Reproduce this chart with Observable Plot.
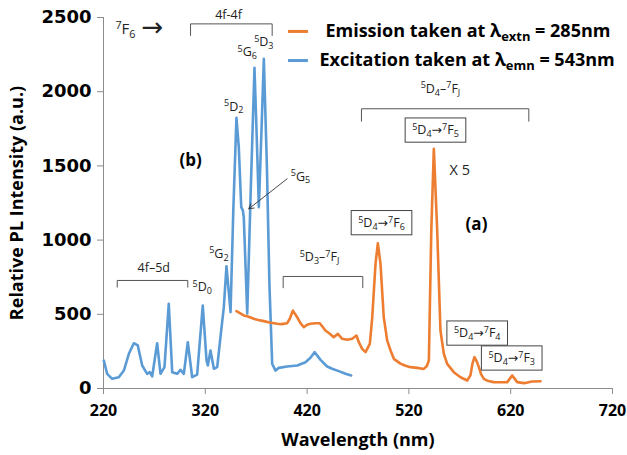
<!DOCTYPE html>
<html><head><meta charset="utf-8">
<script src="https://cdn.jsdelivr.net/npm/d3@7"></script>
<script src="https://cdn.jsdelivr.net/npm/@observablehq/plot@0.6"></script>
<style>body{margin:0;background:#fff} svg text{white-space:pre}</style>
</head><body><div id="chart"></div>
<script>
// Excitation spectrum (blue), monitored at 543 nm
const excWl  = [220.3,223.6,228.5,235,240,244.9,249.8,253.7,258,262.9,265.5,267.8,272.7,276,279.9,284.1,287.5,292.4,295.6,298.9,302.8,307.1,312,317.5,321.2,322.5,325.1,328.4,331.7,334.9,338.2,340.8,344.8,347.5,350.6,352.9,355.3,356.9,357.8,361.2,364.5,368.3,370.5,372.6,375,377.5,380.5,383,385.7,389,392.2,400.4,410.3,418.4,423.3,427.3,433.2,439.7,444.6,451.1,457.7,463.3];
const excVal = [189,99,65,76,121,234,305,290,155,99,110,81,305,99,144,571,110,99,126,99,312,76,94,559,189,155,256,133,144,346,548,824,515,1200,1824,1626,1222,1200,1154,505,1300,2161,1700,1222,1700,2222,1500,700,166,121,139,148,155,177,207,245,193,148,133,117,99,88];
// Emission spectrum (orange), excited at 285 nm
const emWl  = [350.6,357.8,362,367.6,372,377.5,383,390.6,395,400.4,403,406,410.3,413.5,416.8,420,423.3,428.3,432.5,438,442,446.2,450.2,454.5,459.4,464.3,468.5,470.8,474.1,477.4,481.6,484,487.2,489.5,492.1,495.3,498.7,502,505.2,511.7,516,521.6,528.2,534.6,537.5,539.6,542,544.5,547.8,551,554.3,557.6,564.1,570.7,577.3,580.5,582.5,584.4,586.5,588.7,591,593.6,598,603.4,610,616.6,619.5,621.5,624,626.4,633,641,649.3];
const emVal = [521,492,485,470,462,454,445,436,434,440,470,525,480,440,413,430,436,440,440,391,370,346,368,335,328,335,357,312,267,245,301,480,840,979,840,480,323,256,200,168,155,144,139,132,150,189,1065,1615,1065,391,234,166,110,76,54,90,170,211,185,144,95,65,50,43,42,43,70,88,65,43,36,47,49];

const xTicks = [220,320,420,520,620,720];
const yTicks = [0,500,1000,1500,2000,2500];

const seriesNames = ["Emission taken at λ_{extn} = 285nm", "Excitation taken at λ_{emn} = 543nm"];
const colors = ["#ED7D31", "#5B9BD5"];

// annotations (data coordinates)
const levelNotes = [
  {x: 377.5, y: 2334, t: "^5D_3"},
  {x: 361.2, y: 2266, t: "^5G_6"},
  {x: 348,   y: 1900, t: "^5D_2"},
  {x: 413.5, y: 1428, t: "^5G_5"},
  {x: 333.3, y: 908,  t: "^5G_2"},
  {x: 317,   y: 683,  t: "^5D_0"},
  {x: 342.8, y: 2514, t: "4f-4f"},
  {x: 269.4, y: 813,  t: "4f–5d"},
  {x: 432.2, y: 883,  t: "^5D_3–^7F_J"},
  {x: 551,   y: 2019, t: "^5D_4–^7F_J"}
];
const boxNotes = [
  {x: 546.1, y: 1739, t: "^5D_4→^7F_5"},
  {x: 493.1, y: 1115, t: "^5D_4→^7F_6"},
  {x: 587.1, y: 371,  t: "^5D_4→^7F_4"},
  {x: 621,   y: 203,  t: "^5D_4→^7F_3"}
];
const boldNotes = [
  {x: 305.5, y: 1536, t: "(b)"},
  {x: 586.4, y: 1105, t: "(a)"}
];
const brackets = [
  {x1: 305.5, x2: 385.7, y: 2457, drop: 2379},
  {x1: 233.5, x2: 302.8, y: 728,  drop: 683},
  {x1: 396.5, x2: 474.7, y: 755,  drop: 679},
  {x1: 473.4, x2: 637.8, y: 1885, drop: 1801}
];
const arrows = [{x1: 400.4, y1: 1413, x2: 362.7, y2: 1211}];

const exc = excWl.map((x, i) => ({x, y: excVal[i]}));
const em = emWl.map((x, i) => ({x, y: emVal[i]}));
const bracketPts = brackets.flatMap((b, id) => [
  {x: b.x1, y: b.drop, id}, {x: b.x1, y: b.y, id}, {x: b.x2, y: b.y, id}, {x: b.x2, y: b.drop, id}
]);

const font = "'Open Sans', 'DejaVu Sans', sans-serif";
const axisGray = "#8c8c8c";

const chart = Plot.plot({
  width: 627, height: 455,
  marginLeft: 103, marginRight: 15, marginTop: 17, marginBottom: 67,
  x: {domain: [220, 720]},
  y: {domain: [0, 2500]},
  style: {fontFamily: font, background: "#fff", color: "#000", overflow: "visible"},
  marks: [
    Plot.ruleX([220], {y1: 0, y2: 2500, stroke: axisGray}),
    Plot.ruleY([0], {x1: 220, x2: 720, stroke: axisGray}),
    Plot.axisX({ticks: xTicks, tickSize: 6, tickPadding: 10, fontSize: 16, fontWeight: "bold", stroke: axisGray, fill: "#000", label: null, tickFormat: d => String(d)}),
    Plot.axisY({ticks: yTicks, tickSize: 6, tickPadding: 6, fontSize: 18, fontWeight: "bold", fontFamily: "DejaVu Sans", stroke: axisGray, fill: "#000", label: null, tickFormat: d => String(d)}),
    Plot.text(["Wavelength (nm)"], {frameAnchor: "bottom", lineAnchor: "middle", dy: 52, fontSize: 18, fontWeight: "bold"}),
    Plot.text(["Relative PL Intensity (a.u.)"], {frameAnchor: "left", textAnchor: "middle", lineAnchor: "middle", rotate: -90, dx: -86, fontSize: 18, fontWeight: "bold"}),
    Plot.line(exc, {x: "x", y: "y", stroke: colors[1], strokeWidth: 2.6, strokeLinejoin: "round"}),
    Plot.line(em, {x: "x", y: "y", stroke: colors[0], strokeWidth: 2.6, strokeLinejoin: "round"}),
    Plot.line(bracketPts, {x: "x", y: "y", z: "id", stroke: "#555", strokeWidth: 1}),
    Plot.arrow(arrows, {x1: "x1", y1: "y1", x2: "x2", y2: "y2", stroke: "#333", strokeWidth: 0.9, headLength: 9}),
    Plot.text(levelNotes, {x: "x", y: "y", text: "t", fontSize: 12.5, fill: "#222"}),
    Plot.text(boxNotes, {x: "x", y: "y", text: "t", fontSize: 12.5, fill: "#222"}),
    Plot.text(boldNotes, {x: "x", y: "y", text: "t", fontSize: 17, fontWeight: "bold"}),
    Plot.text(["X 5"], {x: 570, y: 1469, fontSize: 14.5, fill: "#222"}),
    Plot.text(["^7F_6"], {x: 241.6, y: 2419, fontSize: 15, fill: "#222"}),
    Plot.text(["→"], {x: 268.1, y: 2430, fontSize: 26, fontFamily: "DejaVu Sans", fill: "#222"}),
    // legend
    Plot.ruleY([2406], {x1: 401.7, x2: 421.3, stroke: colors[0], strokeWidth: 3}),
    Plot.ruleY([2210], {x1: 401.7, x2: 421.3, stroke: colors[1], strokeWidth: 3}),
    Plot.text([{x: 438, y: 2406, t: seriesNames[0]}, {x: 432.2, y: 2210, t: seriesNames[1]}],
      {x: "x", y: "y", text: "t", textAnchor: "start", fontSize: 18, fontWeight: "bold"})
  ]
});
document.getElementById("chart").append(chart);

function richify(el) {
  const s = el.textContent;
  if (!/[\^_]/.test(s)) return false;
  const fs = parseFloat(getComputedStyle(el).fontSize) || 12;
  const segs = [];
  for (let i = 0; i < s.length;) {
    const c = s[i];
    if ((c === "^" || c === "_") && i + 1 < s.length) {
      i++;
      let t;
      if (s[i] === "{") { const j = s.indexOf("}", i); t = s.slice(i + 1, j); i = j + 1; }
      else { t = s[i]; i++; }
      segs.push({t, m: c});
    } else { segs.push({t: c, m: ""}); i++; }
  }
  const merged = [];
  for (const g of segs) {
    const last = merged[merged.length - 1];
    if (last && last.m === g.m) last.t += g.t; else merged.push({...g});
  }
  el.textContent = "";
  let cur = 0;
  for (const g of merged) {
    const ts = document.createElementNS("http://www.w3.org/2000/svg", "tspan");
    const off = g.m === "^" ? -0.36 * fs : g.m === "_" ? 0.22 * fs : 0;
    ts.setAttribute("dy", (off - cur).toFixed(2));
    cur = off;
    if (g.m) ts.setAttribute("font-size", (0.72 * fs).toFixed(2));
    ts.textContent = g.t;
    el.appendChild(ts);
  }
  return true;
}
const boxedTexts = new Set(boxNotes.map(d => d.t));
const toBox = [];
chart.querySelectorAll("text").forEach(el => {
  if (el.querySelector("tspan")) return;
  const s = el.textContent;
  const isBox = boxedTexts.has(s);
  richify(el);
  if (isBox) toBox.push(el);
});
toBox.forEach(el => {
  const b = el.getBBox();
  const r = document.createElementNS("http://www.w3.org/2000/svg", "rect");
  r.setAttribute("x", b.x - 7); r.setAttribute("y", b.y - 2);
  r.setAttribute("width", b.width + 14); r.setAttribute("height", b.height + 4);
  r.setAttribute("fill", "#fff"); r.setAttribute("stroke", "#444"); r.setAttribute("stroke-width", "1");
  const tr = el.getAttribute("transform"); if (tr) r.setAttribute("transform", tr);
  el.parentNode.insertBefore(r, el);
});
</script></body></html>
